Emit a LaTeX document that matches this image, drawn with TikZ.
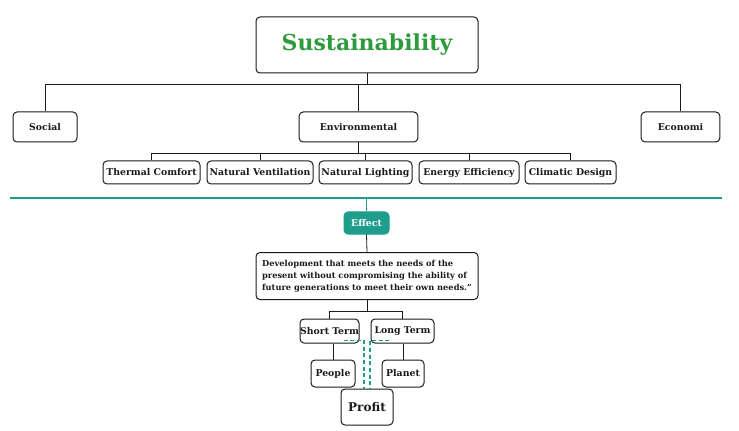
\documentclass[tikz,border=0pt]{standalone}
\usepackage{fontspec}
\setmainfont{DejaVu Serif}
\usepackage{xcolor}
\definecolor{chartink}{HTML}{1A1A1A}
\definecolor{chartgreen}{HTML}{2E9A3C}
\definecolor{chartteal}{HTML}{1E9C8C}

\begin{document}
\begin{tikzpicture}[
  x=0.75pt,
  y=-0.75pt,
  every node/.style={font=\bfseries\fontsize{7}{8.5}\selectfont, text=chartink},
  box/.style={draw=chartink, line width=0.75pt, rounded corners=3pt,
    inner sep=0pt, align=center},
  titlebox/.style={box, font=\bfseries\fontsize{16.5}{19}\selectfont,
    text=chartgreen},
  effectbox/.style={box, draw=chartteal, fill=chartteal, text=white},
  link/.style={chartink, line width=0.6pt},
  teallink/.style={chartteal, line width=0.8pt},
  dashlink/.style={chartteal, line width=0.8pt, dash pattern=on 3pt off 2pt}
]
  \useasboundingbox (0,0) rectangle (739,431);

  % ---- top level --------------------------------------------------------
  \node[titlebox, minimum width=166.5pt, minimum height=42pt]
    (title) at (367,45) {Sustainability};
  \coordinate (busA) at (0,84);

  \node[box, minimum width=48pt, minimum height=22.5pt]
    (social) at (45,127) {Social};
  \node[box, minimum width=89pt, minimum height=22.5pt]
    (env) at (358.5,127) {Environmental};
  \node[box, minimum width=59pt, minimum height=22.5pt]
    (eco) at (680.5,127) {Economi};

  \foreach \n in {social,env,eco}
    \draw[link] (title.south) |- (busA -| \n) -- (\n.north);

  % ---- environmental strategies -----------------------------------------
  \coordinate (busB) at (0,153);
  \node[box, minimum width=72.75pt, minimum height=17.25pt]
    (thermal) at (151.5,172.5) {Thermal Comfort};
  \node[box, minimum width=79.5pt, minimum height=17.25pt]
    (ventilation) at (260,172.5) {Natural Ventilation};
  \node[box, minimum width=69.75pt, minimum height=17.25pt]
    (lighting) at (365.5,172.5) {Natural Lighting};
  \node[box, minimum width=75pt, minimum height=17.25pt]
    (energy) at (469,172.5) {Energy Efficiency};
  \node[box, minimum width=68.25pt, minimum height=17.25pt]
    (climatic) at (570.5,172.5) {Climatic Design};

  \foreach \n in {thermal,ventilation,lighting,energy,climatic}
    \draw[link] (env.south) |- (busB -| \n) -- (\n.north);

  % ---- divider and effect ----------------------------------------------
  \coordinate (divL) at (10,198);
  \coordinate (divR) at (722,198);
  \draw[teallink] (divL) -- (divR);

  \node[effectbox, minimum width=33.75pt, minimum height=16.5pt]
    (effect) at (366.5,223) {Effect};
  \draw[teallink] (effect.north |- divL) -- (effect.north);

  \node[box, minimum width=166.5pt, minimum height=35.25pt, align=left,
    font=\bfseries\fontsize{6.2}{9}\selectfont]
    (quote) at (367,276)
    {Development that meets the needs of the\\
     present without compromising the ability of\\
     future generations to meet their own needs.”};
  \draw[link] (effect.south) -- (quote.north);

  % ---- time frames -------------------------------------------------------
  \coordinate (busC) at (0,311);
  \node[box, minimum width=44.25pt, minimum height=18pt]
    (short) at (329.5,331) {Short Term};
  \node[box, minimum width=47.25pt, minimum height=18pt]
    (long) at (402.5,331) {Long Term};
  \foreach \n in {short,long}
    \draw[link] (quote.south) |- (busC -| \n) -- (\n.north);

  \node[box, minimum width=33pt, minimum height=20.25pt]
    (people) at (333,373.5) {People};
  \node[box, minimum width=31.5pt, minimum height=20.25pt]
    (planet) at (403,373.5) {Planet};
  \draw[link] (short.south -| people) -- (people.north);
  \draw[link] (long.south -| planet) -- (planet.north);

  \node[box, minimum width=39pt, minimum height=27pt,
    font=\bfseries\fontsize{9}{11}\selectfont]
    (profit) at (367,407) {Profit};
  \draw[dashlink] ([shift={(-12pt,2.25pt)}]short.south east)
    -| ([xshift=-2.25pt]profit.north);
  \draw[dashlink] ([shift={(14pt,2.25pt)}]long.south west)
    -| ([xshift=2.25pt]profit.north);

\end{tikzpicture}
\end{document}
